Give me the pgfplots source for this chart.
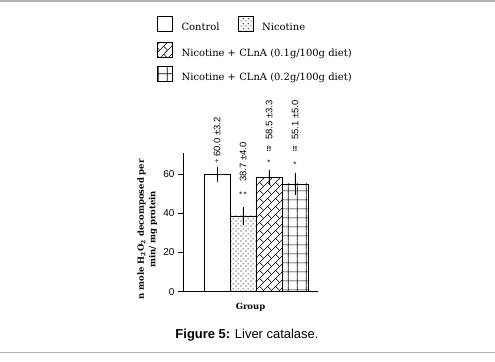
\documentclass[border=0pt]{standalone}
\usepackage{fontspec}
\usepackage{pgfplots}
\pgfplotsset{compat=1.18}
\usetikzlibrary{patterns,patterns.meta}
\setmainfont{DejaVu Serif}
\newfontfamily\sansf{Liberation Sans}
\newfontfamily\legf{DejaVu Serif}

\tikzdeclarepattern{
  name=nicdots,
  bounding box={(0bp,0bp) and (5bp,5bp)},
  tile size={(5bp,5bp)},
  code={
    \fill (1.2bp,1.2bp) circle[radius=0.65bp];
    \fill (3.7bp,3.7bp) circle[radius=0.65bp];
  }
}
\tikzdeclarepattern{
  name=diagbrick,
  bounding box={(0bp,0bp) and (8bp,8bp)},
  tile size={(8bp,8bp)},
  code={
    \draw[line width=0.6bp] (-1bp,-1bp) -- (9bp,9bp);
    \draw[line width=0.6bp] (8bp,0bp) -- (4bp,4bp);
  }
}
\tikzdeclarepattern{
  name=biggrid,
  bounding box={(0bp,0bp) and (8.6bp,8.6bp)},
  tile size={(8.6bp,8.6bp)},
  code={
    \draw[line width=0.75bp] (4.3bp,-0.5bp) -- (4.3bp,9.1bp);
    \draw[line width=0.75bp] (-0.5bp,4.3bp) -- (9.1bp,4.3bp);
  }
}

\begin{document}
\begin{tikzpicture}
\path[use as bounding box] (0,0) rectangle (495bp,362bp);
\draw[black!30, line width=1.5bp] (0,361.2bp) -- (495bp,361.2bp);
\draw[black!30, line width=1.5bp] (0,9.5bp) -- (495bp,9.5bp);

% hidden axis carrying the first legend row
\begin{axis}[
  at={(183bp,70.3bp)}, anchor=south west,
  scale only axis, width=135bp, height=138.4bp,
  xmin=0, xmax=1, ymin=0, ymax=1,
  hide axis,
  legend columns=2,
  legend image code/.code={\draw[#1] (0bp,-4bp) rectangle (15bp,11bp);},
  legend cell align=left,
  legend style={draw=none, fill=none, inner sep=0pt, outer sep=0pt,
    at={(axis description cs:-0.1926,1.992)}, anchor=north west,
    column sep=9bp, /tikz/every even column/.append style={column sep=18bp},
    font=\legf\fontsize{10}{12}\selectfont, nodes={inner sep=0pt}},
]
\addlegendimage{draw=black, line width=0.6bp, fill=white}
\addlegendentry{Control}
\addlegendimage{draw=black, line width=0.6bp, pattern=nicdots}
\addlegendentry{Nicotine}
\end{axis}

\begin{axis}[
  at={(183bp,70.3bp)}, anchor=south west,
  scale only axis, width=135bp, height=138.4bp,
  xmin=-0.3077, xmax=4.885, ymin=0, ymax=70.7,
  axis x line*=bottom, axis y line*=left,
  xtick=\empty, ytick={0,20,40,60},
  tick align=outside, major tick length=5bp,
  tick style={black, line width=0.6bp},
  axis line style={black, line width=0.6bp},
  yticklabel style={font=\sansf\fontsize{10}{12}\selectfont},
  /pgf/number format/assume math mode=true,
  ybar, bar width=1,
  clip=false,
  ylabel={n mole H\textsubscript{2}O\textsubscript{2} decomposed per\\min/ mg protein},
  ylabel style={font=\bfseries\fontsize{8.5}{11.5}\selectfont, align=center,
    at={(axis description cs:-0.19,0.45)}, anchor=south, inner sep=0pt},
  xlabel={Group},
  xlabel style={font=\bfseries\fontsize{8.5}{10}\selectfont,
    at={(axis description cs:0.5,-0.11)}, anchor=center},
  legend image code/.code={\draw[#1] (0bp,-4bp) rectangle (15bp,11bp);},
  legend cell align=left,
  legend style={draw=none, fill=none, inner sep=0pt, outer sep=0pt,
    at={(axis description cs:-0.1926,1.804)}, anchor=north west,
    row sep=8bp, column sep=9bp,
    font=\legf\fontsize{10}{12}\selectfont, nodes={inner sep=0pt}},
  error bars/y dir=both, error bars/y explicit,
  error bars/error bar style={black, line width=0.6bp},
  error bars/error mark options={black, line width=0.6bp, mark size=1.2bp},
]
\addplot[forget plot, bar shift=0pt, draw=black, line width=0.6bp, fill=white]
  coordinates {(1,60.0) +- (0,3.2)};
\addplot[forget plot, bar shift=0pt, draw=black, line width=0.6bp, pattern=nicdots]
  coordinates {(2,38.7) +- (0,4.0)};
\addplot[bar shift=0pt, draw=black, line width=0.6bp, pattern=diagbrick]
  coordinates {(3,58.5) +- (0,3.3)};
\addlegendentry{Nicotine + CLnA (0.1g/100g diet)}
\addplot[bar shift=0pt, draw=black, line width=0.6bp, pattern=biggrid]
  coordinates {(4,55.1) +- (0,5.0)};
\addlegendentry{Nicotine + CLnA (0.2g/100g diet)}

\begin{scope}[every node/.style={font=\sansf\fontsize{9.5}{11}\selectfont, inner sep=0pt}]
\node[rotate=90, anchor=west] at (axis cs:1,68.8) {60.0 ±3.2};
\node[rotate=90, anchor=west] at (axis cs:2,56.1) {38.7 ±4.0};
\node[rotate=90, anchor=west] at (axis cs:3,77.5) {58.5 ±3.3};
\node[rotate=90, anchor=west] at (axis cs:4,77.5) {55.1 ±5.0};
\end{scope}
\begin{scope}[every node/.style={inner sep=0pt}]
\node[font=\sansf\fontsize{7}{8}\selectfont] at (axis cs:1,66.3) {+};
\node[font=\sansf\fontsize{8}{9}\selectfont] at (axis cs:2,49.5) {*\,*};
\node[font=\sansf\bfseries\fontsize{7.5}{8}\selectfont] at (axis cs:3,72.7) {!!};
\node[font=\sansf\fontsize{8}{9}\selectfont] at (axis cs:3,66.0) {*};
\node[font=\sansf\bfseries\fontsize{7.5}{8}\selectfont] at (axis cs:4,72.7) {!!};
\node[font=\sansf\fontsize{8}{9}\selectfont] at (axis cs:4,65.0) {*};
\end{scope}
\node[font=\sansf\fontsize{13}{15}\selectfont, anchor=center] at (axis description cs:0.474,-0.313) {\textbf{Figure 5:} Liver catalase.};
\end{axis}
\end{tikzpicture}
\end{document}
